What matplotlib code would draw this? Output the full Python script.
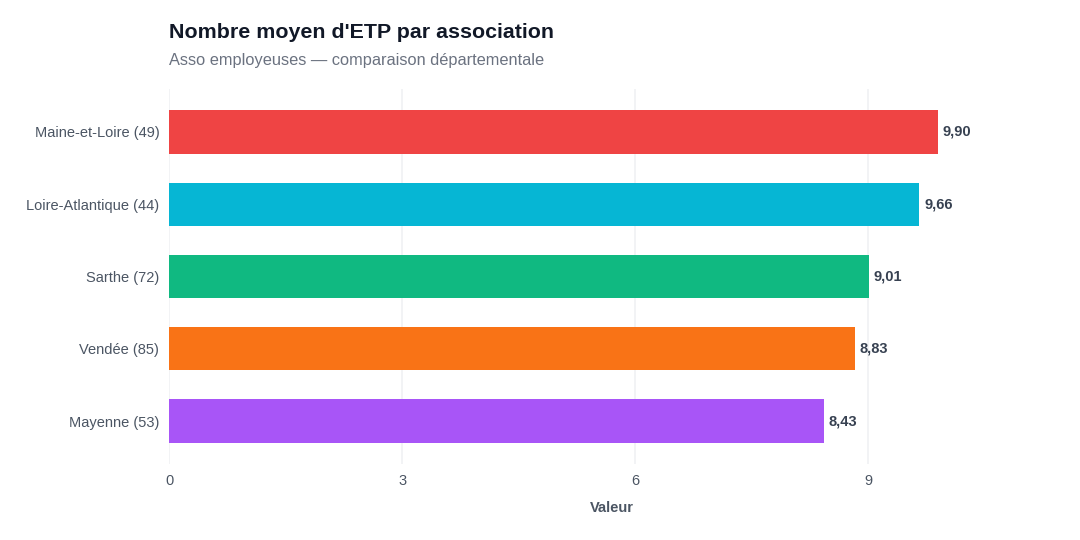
import matplotlib.pyplot as plt

# Data
categories = ['Maine-et-Loire (49)', 'Loire-Atlantique (44)', 'Sarthe (72)',
              'Vendée (85)', 'Mayenne (53)']
values = [9.90, 9.66, 9.01, 8.83, 8.43]
colors = ['#EF4444', '#06B6D4', '#10B981', '#F97316', '#A855F7']
xticks = [0, 3, 6, 9]

plt.rcParams['font.family'] = ['Liberation Sans', 'DejaVu Sans']

fig = plt.figure(figsize=(10.8, 5.4), dpi=100)
ax = fig.add_axes([169 / 1080, 1 - 464.4 / 540, (1055 - 169) / 1080, (464.4 - 88.6) / 540])

ypos = list(range(len(categories)))
ax.barh(ypos, values, height=0.6, color=colors, zorder=2)

for y, v in zip(ypos, values):
    ax.text(v + 0.06, y, f'{v:.2f}'.replace('.', ','), va='center', ha='left',
            fontsize=10.5, fontweight='bold', color='#374151')

ax.set_yticks(ypos)
ax.set_yticklabels(categories)
ax.set_ylim(4.6, -0.6)
ax.set_xlim(0, max(values) * 1.152)
ax.set_xticks(xticks)
ax.set_xticklabels([str(t) for t in xticks])

ax.tick_params(axis='both', length=0, labelsize=10.5, labelcolor='#4B5563')
ax.tick_params(axis='x', pad=7)
ax.tick_params(axis='y', pad=7)
ax.grid(axis='x', color='#F0F1F4', linewidth=1.2, zorder=0)
for s in ax.spines.values():
    s.set_visible(False)

ax.set_xlabel('Valeur', fontsize=10.5, fontweight='bold', color='#4B5563', labelpad=9)

fig.text(169 / 1080, 1 - 33 / 540, "Nombre moyen d'ETP par association",
         fontsize=15.4, fontweight='bold', color='#111827', va='center', ha='left')
fig.text(169 / 1080, 1 - 61 / 540, 'Asso employeuses — comparaison départementale',
         fontsize=11.8, color='#6B7280', va='center', ha='left')

fig.savefig('out.png', dpi=100, facecolor='white')
